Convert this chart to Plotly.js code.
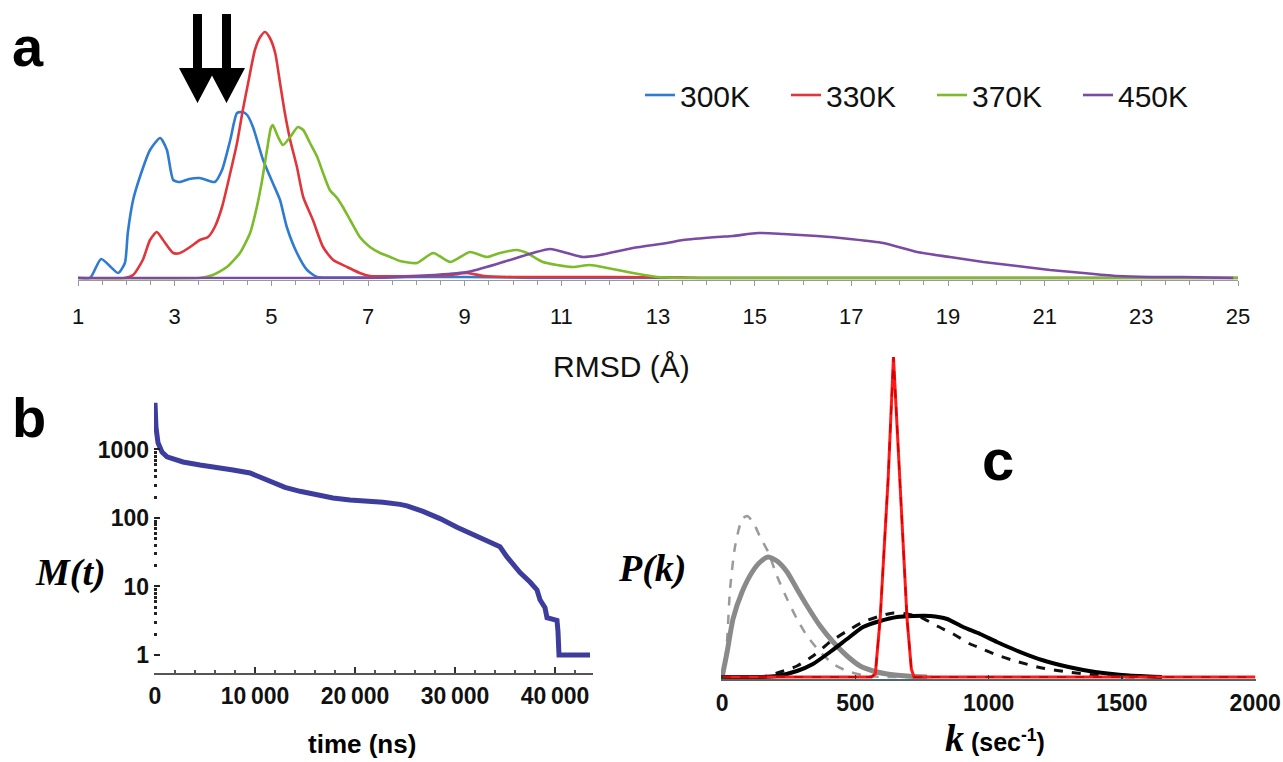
<!DOCTYPE html>
<html><head><meta charset="utf-8">
<script src="https://cdn.plot.ly/plotly-3.0.1.min.js"></script>
<style>html,body{margin:0;padding:0;background:#fff}#chart{width:1283px;height:762px}</style>
</head><body><div id="chart"></div>
<script>
// ---------- Panel a : RMSD distributions (arbitrary units) ----------
const rmsd300 = [1, 1.25, 1.48, 1.83, 1.97, 2.03, 2.14, 2.28, 2.49, 2.70, 2.84, 2.97, 3.11, 3.30, 3.52, 3.83, 3.98, 4.15, 4.29, 4.40, 4.50, 4.62, 4.83, 5.03, 5.18, 5.32, 5.53, 5.74, 5.95, 6.28, 7.0, 8.0, 9.0, 10.0, 10.5, 25];
const p300    = [0, 0, 1.9, 0.5, 1.5, 4.5, 7.8, 10.1, 12.8, 14.0, 12.8, 9.8, 9.6, 9.9, 10.0, 9.6, 10.8, 13.8, 16.5, 16.6, 16.3, 15.1, 11.8, 9.5, 7.8, 5.1, 2.5, 0.8, 0.1, 0.05, 0.05, 0.1, 0.1, 0.05, 0, 0];
const rmsd330 = [1, 1.97, 2.14, 2.34, 2.49, 2.63, 2.76, 2.97, 3.11, 3.32, 3.52, 3.69, 3.83, 3.98, 4.15, 4.29, 4.41, 4.52, 4.66, 4.77, 4.87, 4.97, 5.08, 5.18, 5.28, 5.39, 5.53, 5.66, 5.86, 6.07, 6.28, 6.57, 6.83, 7.04, 8.0, 8.7, 9.05, 9.4, 10.0, 12.0, 13.5, 14.0, 25];
const p330    = [0, 0, 0.3, 1.8, 3.8, 4.6, 3.8, 2.5, 2.5, 3.1, 3.8, 4.1, 5.1, 7.1, 10.5, 13.5, 16.8, 19.5, 22.8, 24.1, 24.6, 24.0, 22.5, 19.5, 16.5, 13.8, 11.1, 8.1, 5.8, 3.1, 1.8, 1.1, 0.5, 0.2, 0.2, 0.3, 0.5, 0.2, 0.1, 0.1, 0.05, 0, 0];
const rmsd370 = [1, 3.52, 3.79, 4.08, 4.35, 4.56, 4.70, 4.81, 4.91, 4.99, 5.03, 5.14, 5.24, 5.39, 5.55, 5.66, 5.80, 5.95, 6.07, 6.21, 6.36, 6.48, 6.63, 6.83, 7.04, 7.25, 7.46, 7.66, 8.01, 8.35, 8.70, 9.11, 9.46, 9.73, 10.08, 10.29, 10.62, 10.91, 11.24, 11.59, 11.95, 12.48, 12.98, 13.52, 25];
const p370    = [0, 0, 0.3, 1.1, 2.5, 4.5, 7.1, 9.8, 12.8, 15.0, 15.3, 14.1, 13.3, 14.1, 15.1, 14.8, 13.5, 12.1, 10.5, 8.8, 8.0, 7.1, 5.8, 4.1, 3.1, 2.5, 2.1, 1.7, 1.5, 2.5, 1.6, 2.6, 2.1, 2.5, 2.8, 2.5, 1.6, 1.3, 1.1, 1.3, 1.0, 0.5, 0.1, 0, 0];
const rmsd450 = [1, 7.0, 7.66, 8.35, 9.05, 9.73, 10.41, 10.77, 11.12, 11.45, 11.80, 12.48, 13.19, 13.52, 14.22, 14.55, 15.07, 15.59, 16.29, 16.97, 17.66, 18.36, 19.04, 19.73, 20.43, 21.11, 21.80, 22.50, 23.18, 23.86, 24.90];
const p450    = [0, 0, 0.1, 0.3, 0.6, 1.5, 2.5, 2.9, 2.5, 2.1, 2.3, 3.0, 3.5, 3.8, 4.1, 4.2, 4.5, 4.4, 4.2, 3.9, 3.5, 2.6, 2.1, 1.6, 1.2, 0.8, 0.5, 0.2, 0.1, 0.1, 0.0];
const seriesNames = ['300K', '330K', '370K', '450K'];
const rmsdTicks = [1, 3, 5, 7, 9, 11, 13, 15, 17, 19, 21, 23, 25];

// ---------- Panel b : M(t) ----------
const timeNs = [0, 100, 300, 700, 1200, 2000, 2800, 4500, 6200, 7800, 9500, 10500, 11800, 13000, 14500, 16200, 17800, 19500, 21200, 22800, 24500, 25200, 26800, 28500, 30200, 31800, 33500, 34500, 35200, 35800, 36500, 37500, 38200, 38500, 39000, 39200, 40200, 40300, 40400, 43500];
const Mt     = [4800, 2100, 1250, 920, 780, 700, 657, 594, 556, 502, 454, 400, 330, 280, 245, 215, 196, 183, 180, 170, 158, 150, 125, 98, 73, 58, 45, 38, 27, 21, 16, 11.6, 8.9, 6.4, 4.9, 3.5, 3.2, 2.2, 1, 1];
const timeTickVals = [0, 10000, 20000, 30000, 40000];
const timeTickText = ['0', '10\u2009000', '20\u2009000', '30\u2009000', '40\u2009000'];
const mTickVals = [1, 10, 100, 1000];
const mTickText = ['1', '10', '100', '1000'];

// ---------- Panel c : P(k) (units of 1e-3 s) ----------
const kGreyDash  = [0, 4, 19, 30, 49, 75, 94, 116, 143, 173, 206, 244, 281, 319, 368, 417, 469, 544, 619, 694, 800];
const pGreyDash  = [0, 0.05, 1.9, 4.4, 6.55, 7.9, 8.05, 7.75, 7.0, 6.25, 5.05, 3.9, 2.9, 2.05, 1.25, 0.65, 0.3, 0.05, 0, 0, 0];
const kGreySolid = [0, 19, 41, 75, 113, 143, 173, 206, 244, 281, 319, 368, 417, 469, 518, 567, 619, 694, 769];
const pGreySolid = [0, 1.25, 2.9, 4.25, 5.25, 5.75, 6.0, 5.8, 5.25, 4.4, 3.55, 2.55, 1.75, 1.05, 0.55, 0.3, 0.15, 0.05, 0];
const kBlackDash = [0, 150, 218, 281, 341, 405, 469, 529, 593, 642, 694, 743, 807, 867, 931, 968, 1031, 1100, 1200, 1300, 1400, 1500, 1560];
const pBlackDash = [0, 0, 0.25, 0.55, 1.05, 1.75, 2.3, 2.75, 3.05, 3.2, 3.15, 3.0, 2.55, 2.15, 1.65, 1.45, 1.1, 0.8, 0.45, 0.25, 0.1, 0.025, 0];
const kBlackSolid = [0, 150, 206, 281, 341, 405, 469, 529, 593, 657, 717, 781, 844, 904, 968, 1031, 1100, 1200, 1300, 1400, 1500, 1600, 1650];
const pBlackSolid = [0, 0, 0.05, 0.3, 0.65, 1.25, 1.9, 2.5, 2.8, 3.0, 3.05, 3.05, 2.9, 2.5, 2.15, 1.75, 1.35, 0.85, 0.5, 0.25, 0.1, 0.025, 0];
const kRed = [0, 560, 575, 593, 608, 623, 643, 666, 681, 694, 710, 720, 2000];
const pRed = [0, 0, 0.15, 2.9, 6.4, 9.9, 16.0, 9.9, 6.4, 2.9, 0.4, 0, 0];
const kTickVals = [0, 500, 1000, 1500, 2000];

// ---------- layout helpers (pixel -> paper) ----------
const W = 1283, H = 762;
const fx = p => p / W;
const fy = p => 1 - p / H;

const colA = ['#2f7bd2', '#e0363b', '#7cbb2a', '#7b4aa3'];
const sans = 'Liberation Sans, Arial, sans-serif';
const serif = 'Liberation Serif, Times New Roman, serif';

const traces = [];
[[rmsd300, p300], [rmsd330, p330], [rmsd370, p370], [rmsd450, p450]].forEach((d, i) => {
  traces.push({x: d[0], y: d[1], type: 'scatter', mode: 'lines', name: seriesNames[i],
    line: {color: colA[i], width: 2.6, shape: 'spline', smoothing: 0.6}, xaxis: 'x', yaxis: 'y', hoverinfo: 'skip'});
});
traces.push({x: timeNs, y: Mt, type: 'scatter', mode: 'lines', showlegend: false,
  line: {color: '#3d3d9e', width: 5}, xaxis: 'x2', yaxis: 'y2', hoverinfo: 'skip'});
traces.push({x: kGreyDash, y: pGreyDash, type: 'scatter', mode: 'lines', showlegend: false,
  line: {color: '#9a9a9a', width: 2.5, dash: 'dash', shape: 'spline', smoothing: 0.6}, xaxis: 'x3', yaxis: 'y3', hoverinfo: 'skip'});
traces.push({x: kGreySolid, y: pGreySolid, type: 'scatter', mode: 'lines', showlegend: false,
  line: {color: '#8a8a8a', width: 5, shape: 'spline', smoothing: 0.6}, xaxis: 'x3', yaxis: 'y3', hoverinfo: 'skip'});
traces.push({x: kBlackDash, y: pBlackDash, type: 'scatter', mode: 'lines', showlegend: false,
  line: {color: '#111', width: 3, dash: 'dash', shape: 'spline', smoothing: 0.6}, xaxis: 'x3', yaxis: 'y3', hoverinfo: 'skip'});
traces.push({x: kBlackSolid, y: pBlackSolid, type: 'scatter', mode: 'lines', showlegend: false,
  line: {color: '#000', width: 4, shape: 'spline', smoothing: 0.6}, xaxis: 'x3', yaxis: 'y3', hoverinfo: 'skip'});
traces.push({x: kRed, y: pRed, type: 'scatter', mode: 'lines', showlegend: false,
  line: {color: '#ff1a1a', width: 3}, xaxis: 'x3', yaxis: 'y3', hoverinfo: 'skip'});
traces.push({x: kRed, y: pRed, type: 'scatter', mode: 'lines', showlegend: false,
  line: {color: '#d90000', width: 2, dash: 'dash'}, xaxis: 'x3', yaxis: 'y3', hoverinfo: 'skip'});

// arrows (decoration) as paper-space paths
function arrowPath(cx) {
  const sw = 4.5, hw = 18.5, top = 14, neck = 68, tip = 103;
  return `M${fx(cx - sw)},${fy(top)} L${fx(cx + sw)},${fy(top)} L${fx(cx + sw)},${fy(neck)} L${fx(cx + hw)},${fy(neck)} L${fx(cx)},${fy(tip)} L${fx(cx - hw)},${fy(neck)} L${fx(cx - sw)},${fy(neck)} Z`;
}

const boldTick = {family: sans, size: 23, color: '#111', weight: 'bold'};

const layout = {
  width: W, height: H,
  margin: {l: 0, r: 0, t: 0, b: 0},
  paper_bgcolor: '#fff', plot_bgcolor: 'rgba(0,0,0,0)',
  showlegend: true,
  legend: {orientation: 'h', x: fx(640), y: fy(95), xanchor: 'left', yanchor: 'middle',
    font: {family: sans, size: 30, color: '#111'}, entrywidth: 101, entrywidthmode: 'pixels',
    bgcolor: 'rgba(0,0,0,0)', itemwidth: 30, tracegroupgap: 0},
  xaxis: {domain: [fx(78), fx(1238)], range: [1, 25], anchor: 'y',
    tickvals: rmsdTicks, ticks: 'outside', ticklen: 5, tickcolor: '#999', tickwidth: 1,
    minor: {dtick: 0.5, tick0: 1, ticks: 'outside', ticklen: 4, tickcolor: '#999'},
    showline: true, linecolor: '#9a9a9a', linewidth: 1.5, showgrid: false, zeroline: false,
    tickfont: {family: sans, size: 22, color: '#111'}, ticklabelstandoff: 12, layer: 'below traces'},
  yaxis: {domain: [fy(279.5), fy(20)], range: [-0.15, 25.8], visible: false, anchor: 'x'},
  xaxis2: {domain: [fx(154), fx(593)], range: [-100, 43800], anchor: 'y2',
    tickvals: timeTickVals, ticktext: timeTickText, ticks: 'inside', ticklen: 6, tickcolor: '#333', tickwidth: 1.5,
    minor: {dtick: 2000, ticks: 'inside', ticklen: 3, tickcolor: '#555'},
    showline: true, linecolor: '#555', linewidth: 1.5, showgrid: false, zeroline: false,
    tickfont: boldTick, ticklabelstandoff: 2},
  yaxis2: {domain: [fy(673), fy(402)], type: 'log', range: [-0.263, 3.693], anchor: 'x2',
    tickvals: mTickVals, ticktext: mTickText, ticks: 'inside', ticklen: 6, tickcolor: '#222', tickwidth: 2,
    minor: {tickvals: [2,3,4,5,6,7,8,9,20,30,40,50,60,70,80,90,200,300,400,500,600,700,800,900], ticks: 'inside', ticklen: 3, tickwidth: 3, tickcolor: '#222'},
    showline: false, showgrid: false, zeroline: false,
    tickfont: boldTick, ticklabelstandoff: 4},
  xaxis3: {domain: [fx(721), fx(1256)], range: [-4, 2003], anchor: 'y3',
    tickvals: kTickVals, ticks: 'inside', ticklen: 4, tickcolor: '#333', tickwidth: 1.5,
    showline: true, linecolor: '#4d6868', linewidth: 2, showgrid: false, zeroline: false,
    tickfont: boldTick, ticklabelstandoff: 2},
  yaxis3: {domain: [fy(679), fy(350)], range: [-0.1, 16.35], visible: false, anchor: 'x3'},
  shapes: [
    {type: 'path', xref: 'paper', yref: 'paper', path: arrowPath(197.5), fillcolor: '#000', line: {width: 0}},
    {type: 'path', xref: 'paper', yref: 'paper', path: arrowPath(226.5), fillcolor: '#000', line: {width: 0}}
  ],
  annotations: [
    {text: 'a', x: fx(28), y: fy(47), xref: 'paper', yref: 'paper', showarrow: false, xanchor: 'center', yanchor: 'middle',
      font: {family: sans, size: 56, color: '#000', weight: 'bold'}},
    {text: 'b', x: fx(29), y: fy(417), xref: 'paper', yref: 'paper', showarrow: false, xanchor: 'center', yanchor: 'middle',
      font: {family: sans, size: 56, color: '#000', weight: 'bold'}},
    {text: 'c', x: fx(998), y: fy(459), xref: 'paper', yref: 'paper', showarrow: false, xanchor: 'center', yanchor: 'middle',
      font: {family: sans, size: 58, color: '#000', weight: 'bold'}},
    {text: 'RMSD (Å)', x: fx(621), y: fy(367), xref: 'paper', yref: 'paper', showarrow: false, xanchor: 'center', yanchor: 'middle',
      font: {family: sans, size: 30, color: '#111'}},
    {text: 'M(t)', x: fx(70), y: fy(572), xref: 'paper', yref: 'paper', showarrow: false, xanchor: 'center', yanchor: 'middle',
      font: {family: serif, size: 38, color: '#000', weight: 'bold', style: 'italic'}},
    {text: 'time (ns)', x: fx(362), y: fy(744), xref: 'paper', yref: 'paper', showarrow: false, xanchor: 'center', yanchor: 'middle',
      font: {family: sans, size: 26, color: '#000', weight: 'bold'}},
    {text: 'P(k)', x: fx(652), y: fy(568), xref: 'paper', yref: 'paper', showarrow: false, xanchor: 'center', yanchor: 'middle',
      font: {family: serif, size: 38, color: '#000', weight: 'bold', style: 'italic'}},
    {text: "<span style='font-family:Liberation Serif;font-style:italic;font-size:38px'>k</span> (sec<sup>-1</sup>)", x: fx(995), y: fy(738), xref: 'paper', yref: 'paper', showarrow: false, xanchor: 'center', yanchor: 'middle',
      font: {family: sans, size: 25, color: '#000', weight: 'bold'}}
  ]
};

Plotly.newPlot('chart', traces, layout, {displayModeBar: false, staticPlot: true});
</script></body></html>
